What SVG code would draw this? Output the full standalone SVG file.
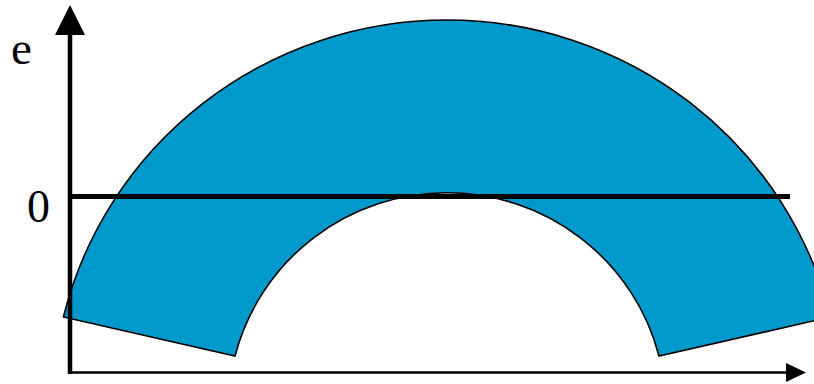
<svg xmlns="http://www.w3.org/2000/svg" width="814" height="384" viewBox="0 0 814 384">
  <style>
    .lbl { font-family: "Liberation Serif", "Times New Roman", serif; fill: #000; }
    .ax { stroke: #000; fill: none; }
  </style>
  <rect width="814" height="384" fill="#fff"/>
  <g id="arch">
    <path d="M 63.4 317 A 395 390 0 0 1 830.6 317 L 659 356 A 219 218 0 0 0 235 356 Z" fill="#0099CC" stroke="#000" stroke-width="1.6" stroke-linejoin="miter"/>
  </g>
  <g id="axes">
    <line class="ax" x1="70" y1="374" x2="70" y2="33" stroke-width="4.5"/>
    <polygon points="70,5 55,35 85,35" fill="#000"/>
    <line class="ax" x1="68" y1="372.5" x2="788" y2="372.5" stroke-width="2.6"/>
    <polygon points="806,372.5 786,363 786,382" fill="#000"/>
    <line class="ax" x1="70" y1="196.5" x2="790" y2="196.5" stroke-width="5"/>
  </g>
  <g id="labels">
    <text class="lbl" x="11" y="64" font-size="47">e</text>
    <text class="lbl" x="27" y="222" font-size="46">0</text>
  </g>
</svg>
